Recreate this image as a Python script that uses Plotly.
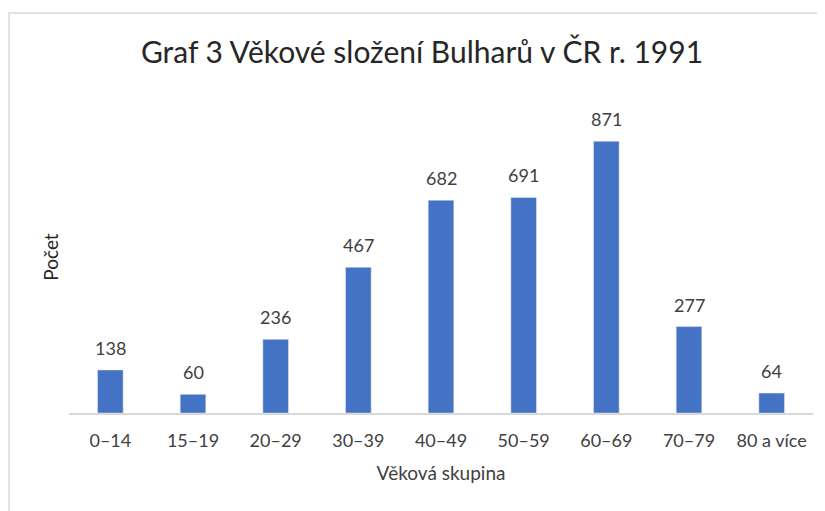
import plotly.graph_objects as go

# Age groups and counts (Bulgarians in CR, 1991)
age_groups = ["0–14", "15–19", "20–29", "30–39", "40–49", "50–59", "60–69", "70–79", "80 a více"]
counts = [138, 60, 236, 467, 682, 691, 871, 277, 64]

W, H = 825, 511
off = 8  # page body margin shifts the figure by 8px
ml, mr, mt, mb = 69 - off, 12 + off, 101 - off, 98 + off
pw, ph = W - ml - mr, H - mt - mb

font = "Lato"

fig = go.Figure(go.Bar(
    x=age_groups,
    y=counts,
    marker_color="#4472C4",
    width=0.31,
))

# data labels above the bars
for g, c in zip(age_groups, counts):
    fig.add_annotation(
        x=g, y=c, text=str(c), showarrow=False,
        yanchor="bottom", yshift=9,
        font=dict(family=font, size=18, color="#404040"),
    )

# light chart-area border (partly off-canvas like the screenshot)
fig.add_shape(
    type="rect", xref="paper", yref="paper",
    x0=(1 - ml) / pw, x1=(W + 10 - ml) / pw,
    y0=(mt + ph - (H + 10)) / ph, y1=(mt + ph - (13 - off)) / ph,
    line=dict(color="#D9D9D9", width=1.5), fillcolor="rgba(0,0,0,0)", layer="below",
)

fig.update_layout(
    width=W, height=H,
    margin=dict(l=ml, r=mr, t=mt, b=mb),
    paper_bgcolor="white", plot_bgcolor="white",
    showlegend=False,
    title=dict(
        text="Graf 3 Věkové složení Bulharů v ČR r. 1991",
        x=(422 - off) / W, xanchor="center", y=1 - (52 - off) / H, yanchor="middle",
        font=dict(family=font, size=30, color="#262626"),
    ),
    xaxis=dict(
        showline=True, linecolor="#D9D9D9", linewidth=1.5,
        ticks="", ticklabelstandoff=11,
        tickfont=dict(family=font, size=18, color="#404040"),
        title=dict(text="Věková skupina", font=dict(family=font, size=19, color="#404040"), standoff=16),
    ),
    yaxis=dict(
        range=[0, 1000], showticklabels=False, showgrid=False, zeroline=False,
        title=dict(text="Počet", font=dict(family=font, size=19, color="#262626"), standoff=4),
    ),
)

fig.write_html("out.html")
